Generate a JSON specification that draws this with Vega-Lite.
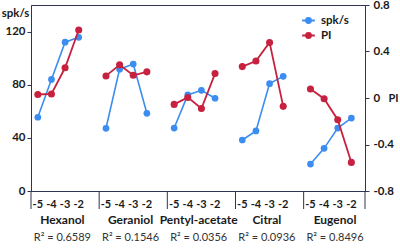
{
  "$schema": "https://vega.github.io/schema/vega-lite/v6.json",
  "width": 334,
  "height": 186,
  "autosize": {"type": "none"},
  "padding": {"left": 31, "top": 5, "right": 35, "bottom": 58},
  "background": "white",
  "config": {
    "font": "Lato",
    "view": {"stroke": "#2f3452", "strokeWidth": 1},
    "axis": {"grid": false, "domainColor": "#2f3452", "tickColor": "#2f3452", "labelColor": "#1a1a1a", "titleColor": "#1a1a1a", "labelFont": "Lato", "titleFont": "Lato"}
  },
  "datasets": {
    "resp": [
      {"odor": "Hexanol", "conc": -5, "spk": 55.5, "pi": 0.03},
      {"odor": "Hexanol", "conc": -4, "spk": 84, "pi": 0.035},
      {"odor": "Hexanol", "conc": -3, "spk": 112, "pi": 0.26},
      {"odor": "Hexanol", "conc": -2, "spk": 115.7, "pi": 0.585},
      {"odor": "Geraniol", "conc": -5, "spk": 47.2, "pi": 0.19},
      {"odor": "Geraniol", "conc": -4, "spk": 91.7, "pi": 0.285},
      {"odor": "Geraniol", "conc": -3, "spk": 95.5, "pi": 0.195},
      {"odor": "Geraniol", "conc": -2, "spk": 58.5, "pi": 0.225},
      {"odor": "Pentyl-acetate", "conc": -5, "spk": 47.4, "pi": -0.055},
      {"odor": "Pentyl-acetate", "conc": -4, "spk": 72.3, "pi": 0.005},
      {"odor": "Pentyl-acetate", "conc": -3, "spk": 75.8, "pi": -0.09},
      {"odor": "Pentyl-acetate", "conc": -2, "spk": 69.8, "pi": 0.21},
      {"odor": "Citral", "conc": -5, "spk": 38.4, "pi": 0.27},
      {"odor": "Citral", "conc": -4, "spk": 45.2, "pi": 0.318},
      {"odor": "Citral", "conc": -3, "spk": 80.8, "pi": 0.478},
      {"odor": "Citral", "conc": -2, "spk": 86.3, "pi": -0.072},
      {"odor": "Eugenol", "conc": -5, "spk": 20.3, "pi": 0.077},
      {"odor": "Eugenol", "conc": -4, "spk": 32.1, "pi": -0.006},
      {"odor": "Eugenol", "conc": -3, "spk": 47.4, "pi": -0.187},
      {"odor": "Eugenol", "conc": -2, "spk": 54.9, "pi": -0.554}
    ],
    "groups": [
      {"odor": "Hexanol", "r2": "R² = 0.6589"},
      {"odor": "Geraniol", "r2": "R² = 0.1546"},
      {"odor": "Pentyl-acetate", "r2": "R² = 0.0356"},
      {"odor": "Citral", "r2": "R² = 0.0936"},
      {"odor": "Eugenol", "r2": "R² = 0.8496"}
    ]
  },
  "encoding": {
    "x": {
      "field": "key",
      "type": "nominal",
      "bandPosition": 0.5,
      "scale": {
        "type": "band",
        "domain": [
          "Hexanol|-5", "Hexanol|-4", "Hexanol|-3", "Hexanol|-2", "Hexanol|",
          "Geraniol|-5", "Geraniol|-4", "Geraniol|-3", "Geraniol|-2", "Geraniol|",
          "Pentyl-acetate|-5", "Pentyl-acetate|-4", "Pentyl-acetate|-3", "Pentyl-acetate|-2", "Pentyl-acetate|",
          "Citral|-5", "Citral|-4", "Citral|-3", "Citral|-2", "Citral|",
          "Eugenol|-5", "Eugenol|-4", "Eugenol|-3", "Eugenol|-2"
        ],
        "paddingInner": 0,
        "paddingOuter": 0.25,
        "align": 0
      },
      "axis": {
        "title": null,
        "ticks": false,
        "labelAngle": 0,
        "labelExpr": "split(datum.value, '|')[1]",
        "labelFontSize": 11,
        "labelFontWeight": "bold",
        "labelPadding": 7
      }
    }
  },
  "layer": [
    {
      "layer": [
        {
          "data": {"name": "resp"},
          "transform": [{"calculate": "datum.odor + '|' + datum.conc", "as": "key"}],
          "mark": {"type": "line", "strokeWidth": 1.6},
          "encoding": {
            "y": {
              "field": "spk", "type": "quantitative",
              "scale": {"domain": [0, 140], "nice": false, "zero": true},
              "axis": {
                "values": [0, 20, 40, 60, 80, 100, 120, 140],
                "labelExpr": "datum.value % 40 == 0 && datum.value < 140 ? datum.label : ''",
                "labelFontSize": 11.5, "labelFontWeight": "bold", "tickSize": 4, "labelPadding": 2,
                "title": "spk/s", "titleAngle": 0, "titleX": -16, "titleY": 8,
                "titleAlign": "center", "titleBaseline": "middle", "titleFontSize": 11.5, "titleFontWeight": "bold"
              }
            },
            "color": {"datum": "spk/s", "type": "nominal",
              "scale": {"domain": ["spk/s", "PI"], "range": ["#3b8df0", "#c6213f"]},
              "legend": {
                "orient": "none", "legendX": 270, "legendY": 8, "title": null,
                "symbolType": "M-1,0H1M-0.4,0A0.4,0.4,0,1,1,0.4,0A0.4,0.4,0,1,1,-0.4,0Z",
                "symbolSize": 160, "symbolStrokeWidth": 1.8, "rowPadding": 1,
                "labelFontSize": 11.5, "labelFontWeight": "bold", "labelColor": "#1a1a1a", "labelOffset": 5,
                "encode": {"symbols": {"update": {"fill": {"scale": "color", "field": "value"}, "stroke": {"scale": "color", "field": "value"}, "fillOpacity": {"value": 1}}}}
              }
            },
            "detail": {"field": "odor"}
          }
        },
        {
          "data": {"name": "resp"},
          "transform": [{"calculate": "datum.odor + '|' + datum.conc", "as": "key"}],
          "mark": {"type": "point", "filled": true, "opacity": 1, "size": 45},
          "encoding": {
            "y": {"field": "spk", "type": "quantitative"},
            "color": {"datum": "spk/s", "type": "nominal"}
          }
        },
        {
          "data": {"name": "groups"},
          "transform": [{"calculate": "datum.odor + '|-5'", "as": "key"}],
          "mark": {"type": "rule", "color": "#2f3452", "strokeWidth": 1, "y2Offset": 18},
          "encoding": {
            "x": {"field": "key", "type": "nominal", "bandPosition": 0},
            "y": {"datum": 0},
            "y2": {"datum": 0}
          }
        },
        {
          "data": {"name": "groups"},
          "transform": [{"filter": "datum.odor == 'Eugenol'"}, {"calculate": "datum.odor + '|-2'", "as": "key"}],
          "mark": {"type": "rule", "color": "#2f3452", "strokeWidth": 1, "y2Offset": 18},
          "encoding": {
            "x": {"field": "key", "type": "nominal", "bandPosition": 1.5},
            "y": {"datum": 0},
            "y2": {"datum": 0}
          }
        },
        {
          "data": {"name": "groups"},
          "transform": [{"calculate": "datum.odor + '|-3'", "as": "key"}],
          "mark": {"type": "text", "dy": 29, "fontSize": 12, "fontWeight": "bold", "color": "#1a1a1a", "baseline": "middle", "align": "center"},
          "encoding": {
            "x": {"field": "key", "type": "nominal", "bandPosition": 0.3},
            "y": {"datum": 0},
            "text": {"field": "odor"}
          }
        },
        {
          "data": {"name": "groups"},
          "transform": [{"calculate": "datum.odor + '|-3'", "as": "key"}],
          "mark": {"type": "text", "dy": 47, "fontSize": 11, "color": "#333333", "baseline": "middle", "align": "center"},
          "encoding": {
            "x": {"field": "key", "type": "nominal", "bandPosition": 0.3},
            "y": {"datum": 0},
            "text": {"field": "r2"}
          }
        }
      ]
    },
    {
      "data": {"name": "resp"},
      "transform": [{"calculate": "datum.odor + '|' + datum.conc", "as": "key"}],
      "layer": [
        {
          "mark": {"type": "line", "strokeWidth": 1.8},
          "encoding": {
            "y": {
              "field": "pi", "type": "quantitative",
              "scale": {"domain": [-0.8, 0.8], "nice": false, "zero": false},
              "axis": {
                "orient": "right",
                "values": [-0.8, -0.6, -0.4, -0.2, 0, 0.2, 0.4, 0.6, 0.8],
                "labelExpr": "abs(round(datum.value*10)) % 4 == 0 ? '' + round(datum.value*10)/10 : ''",
                "labelFontSize": 11.5, "labelFontWeight": "bold", "tickSize": 4, "labelPadding": 4,
                "title": "PI", "titleAngle": 0, "titleX": 28, "titleY": 93.5,
                "titleAlign": "center", "titleBaseline": "middle", "titleFontSize": 11, "titleFontWeight": "bold"
              }
            },
            "color": {"datum": "PI", "type": "nominal"},
            "detail": {"field": "odor"}
          }
        },
        {
          "mark": {"type": "point", "filled": true, "opacity": 1, "size": 50},
          "encoding": {
            "y": {"field": "pi", "type": "quantitative"},
            "color": {"datum": "PI", "type": "nominal"}
          }
        }
      ]
    }
  ],
  "resolve": {"scale": {"y": "independent"}, "axis": {"y": "independent"}}
}
